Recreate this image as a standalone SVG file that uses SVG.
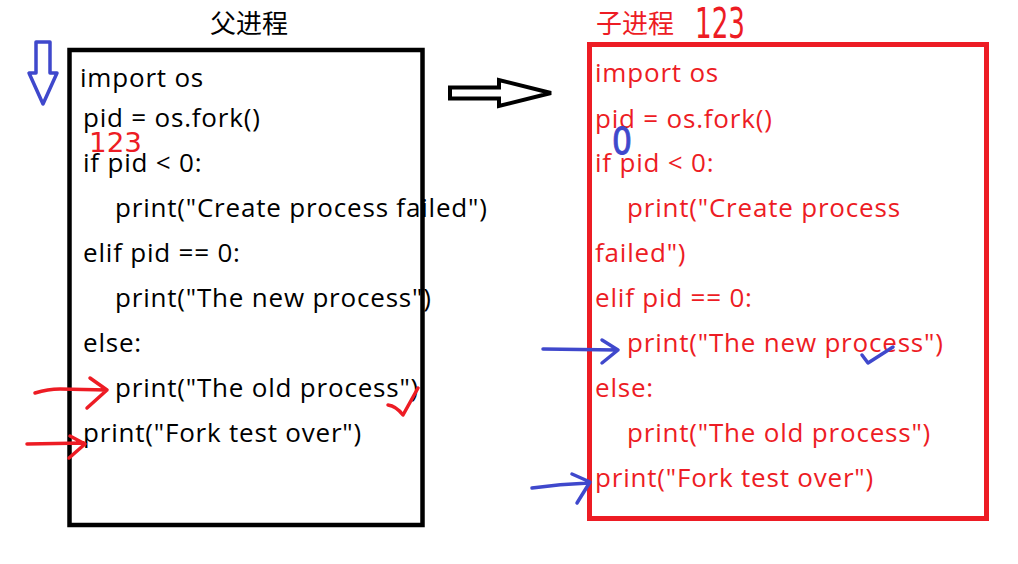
<svg xmlns="http://www.w3.org/2000/svg" width="1018" height="564" viewBox="0 0 1018 564">
<style>
.code{font-family:"Open Sans","Noto Sans",sans-serif;font-size:26px;letter-spacing:0.8px}
.blk{fill:#000}
.red{fill:#ed1c24}
.title{font-family:"Noto Sans CJK SC",sans-serif;font-size:26px}
.hand{font-family:"DejaVu Sans",sans-serif;fill:#ed1c24}
.rmark{fill:none;stroke:#ed1c24;stroke-width:3.5;stroke-linecap:round;stroke-linejoin:round}
.bmark{fill:none;stroke:#3f48cc;stroke-width:3.5;stroke-linecap:round;stroke-linejoin:round}
</style>
<rect width="1018" height="564" fill="#fff"/>
<g id="parent">
<text class="title blk" x="249" y="33" text-anchor="middle">父进程</text>
<rect x="69.5" y="50" width="353" height="475" fill="none" stroke="#000" stroke-width="4.5"/>
<g class="code blk">
<text x="80" y="87">import os</text>
<text x="83" y="127">pid = os.fork()</text>
<text x="83" y="172">if pid &lt; 0:</text>
<text x="115" y="217">print("Create process failed")</text>
<text x="83" y="262">elif pid == 0:</text>
<text x="115" y="307">print("The new process")</text>
<text x="83" y="352">else:</text>
<text x="115" y="397">print("The old process")</text>
<text x="83" y="442">print("Fork test over")</text>
</g>
</g>
<g id="child">
<text class="title red" x="596" y="33">子进程</text>
<rect x="589.5" y="44.5" width="397" height="474" fill="none" stroke="#ed1c24" stroke-width="5"/>
<g class="code red">
<text x="595" y="82">import os</text>
<text x="595" y="128">pid = os.fork()</text>
<text x="595" y="172">if pid &lt; 0:</text>
<text x="627" y="217">print("Create process</text>
<text x="595" y="262">failed")</text>
<text x="595" y="307">elif pid == 0:</text>
<text x="627" y="352">print("The new process")</text>
<text x="595" y="397">else:</text>
<text x="627" y="442">print("The old process")</text>
<text x="595" y="487">print("Fork test over")</text>
</g>
</g>
<g id="connectors">
<path d="M450,87.5 L499,87.5 L499,80 L551,93 L499,106 L499,98.5 L450,98.5 Z" fill="#fff" stroke="#000" stroke-width="4" stroke-linejoin="miter"/>
</g>
<g id="annotations">
<path d="M36,42 L50,42 L50,73 L57,73 L43,104 L29,73 L36,73 Z" fill="#fff" stroke="#3f48cc" stroke-width="3.5" stroke-linejoin="round"/>
<text class="hand" x="695" y="38" font-size="42" textLength="50" lengthAdjust="spacingAndGlyphs">123</text>
<text class="hand" x="89" y="152" font-size="27" textLength="53" lengthAdjust="spacingAndGlyphs">123</text>
<text x="612" y="154" font-family="DejaVu Sans,sans-serif" font-size="37" fill="#3f48cc" stroke="#3f48cc" stroke-width="1" textLength="20" lengthAdjust="spacingAndGlyphs">0</text>
<path class="rmark" d="M35,393 Q48,389 60,389 L107,390 M90,378 L107,390 L87,408"/>
<path class="rmark" d="M27,444 L84,443 M70,436 L85,444 L69,458"/>
<path class="rmark" d="M388,405 Q396,406 403,415 L418,388"/>
<path class="bmark" d="M543,349 L617,350 M602,340 L618,350 L602,363"/>
<path class="bmark" d="M532,488 Q560,484 589,483 M572,474 L590,482 L577,503"/>
<path class="bmark" d="M862,355 L868,363 L893,347"/>
</g>
</svg>
